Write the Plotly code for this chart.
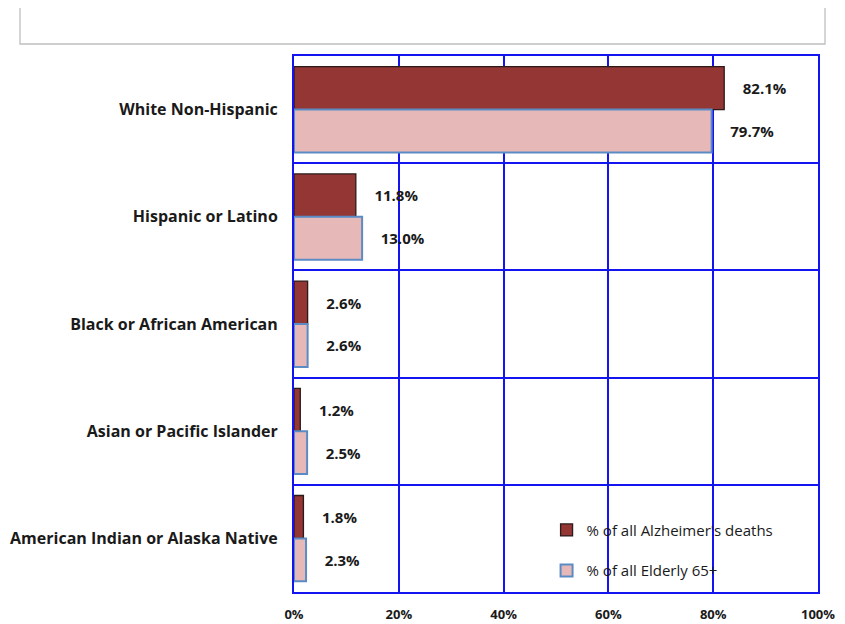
import plotly.graph_objects as go

categories = ["White Non-Hispanic", "Hispanic or Latino", "Black or African American",
              "Asian or Pacific Islander", "American Indian or Alaska Native"]
alz_deaths = [82.1, 11.8, 2.6, 1.2, 1.8]
elderly = [79.7, 13.0, 2.6, 2.5, 2.3]
series_names = ["% of all Alzheimer's deaths", "% of all Elderly 65+"]
x_ticks = [0, 20, 40, 60, 80, 100]
x_ticktext = ["0%", "20%", "40%", "60%", "80%", "100%"]

FONT = "'Open Sans', Lato, sans-serif"
BLUE = "#1414F0"

fig = go.Figure()
fig.add_trace(go.Bar(
    y=categories, x=alz_deaths, orientation="h", name=series_names[0],
    marker=dict(color="#943634", line=dict(color="#2A1A1A", width=1.3)),
    text=[f"{v:.1f}%" for v in alz_deaths], texttemplate="    %{text}",
    textposition="outside", cliponaxis=False,
    textfont=dict(family=FONT, size=15, color="#1a1a1a", weight="bold"),
    legendgroup="a",
))
fig.add_trace(go.Bar(
    y=categories, x=elderly, orientation="h", name=series_names[1],
    marker=dict(color="#E6B9B8", line=dict(color="#5B8BC4", width=2)),
    text=[f"{v:.1f}%" for v in elderly], texttemplate="    %{text}",
    textposition="outside", cliponaxis=False,
    textfont=dict(family=FONT, size=15, color="#1a1a1a", weight="bold"),
    legendgroup="b",
))

fig.update_layout(
    width=845, height=624,
    margin=dict(l=286, r=35, t=48, b=40),
    paper_bgcolor="white", plot_bgcolor="white",
    barmode="group", bargap=0.2, bargroupgap=0,
    font=dict(family=FONT, color="#1a1a1a"),
    showlegend=True,
    legend=dict(x=0.482, y=0.01, xanchor="left", yanchor="bottom",
                bgcolor="rgba(0,0,0,0)", tracegroupgap=18,
                font=dict(family=FONT, size=15, color="#1a1a1a"),
                itemwidth=30),
    shapes=[dict(type="rect", xref="paper", yref="paper",
                 x0=-0.5229, x1=1.0134, y0=1.0224, y1=1.2,
                 line=dict(color="#BFBFBF", width=1.3), fillcolor="rgba(0,0,0,0)",
                 layer="below")],
)
fig.update_xaxes(
    range=[0, 100], tickvals=x_ticks, ticktext=x_ticktext,
    showgrid=True, gridcolor=BLUE, gridwidth=2,
    showline=True, linecolor=BLUE, linewidth=2, mirror=True,
    zeroline=False, ticks="", ticklabelstandoff=9, automargin=False,
    tickfont=dict(family=FONT, size=13, color="#1a1a1a", weight="bold"),
)
fig.update_yaxes(
    type="category", autorange="reversed", tickson="boundaries",
    showgrid=True, gridcolor=BLUE, gridwidth=2,
    showline=True, linecolor=BLUE, linewidth=2, mirror=True,
    ticks="", ticklabelstandoff=11, automargin=False,
    tickfont=dict(family=FONT, size=16, color="#1a1a1a", weight="bold"),
)

fig.write_html("out.html")
